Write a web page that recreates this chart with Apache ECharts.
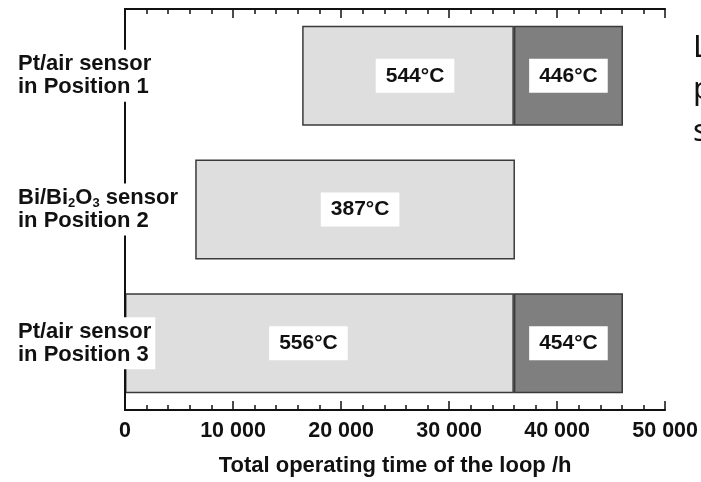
<!DOCTYPE html>
<html>
<head>
<meta charset="utf-8">
<script src="https://cdn.jsdelivr.net/npm/echarts@6/dist/echarts.min.js"></script>
<style>
  html, body { margin: 0; padding: 0; background: #ffffff; }
  #chart { width: 701px; height: 482px; }
</style>
</head>
<body>
<div id="chart"></div>
<script>
// Sensor positions along the loop (top to bottom)
const categories = [
  'Pt/air sensor\nin Position 1',
  'Bi/Bi{sub|2}O{sub|3} sensor\nin Position 2',
  'Pt/air sensor\nin Position 3'
];
// Operating-time boundaries of each sensor (hours of total loop operation)
const startHours = [16400, 6500, 0];
const firstPhaseEnd = [36000, 36100, 36000];
const secondPhaseEnd = [46100, null, 46100];
// Mean temperatures during each phase
const firstPhaseTemps = ['544°C', '387°C', '556°C'];
const secondPhaseTemps = ['446°C', null, '454°C'];
// Horizontal nudges of the first-phase temperature tags
const firstTagShift = [7, 5, -11];
// Axis range
const xMin = 0, xMax = 50000, xStep = 10000;

const FONT = "'Liberation Sans', Arial, Helvetica, sans-serif";
const LIGHT = '#dedede';
const DARK = '#7f7f7f';
const EDGE = '#3a3a3a';

const baseData = startHours;
const firstData = firstPhaseEnd.map((e, i) => ({
  value: e - startHours[i],
  label: { offset: [firstTagShift[i], 0] }
}));
const secondData = secondPhaseEnd.map((e, i) => e == null ? null : e - firstPhaseEnd[i]);

const tagLabel = {
  show: true,
  position: 'inside',
  color: '#111',
  fontFamily: FONT,
  fontWeight: 'bold',
  fontSize: 21,
  backgroundColor: '#ffffff',
  padding: [7, 10, 6, 10]
};

const spaced = v => String(v).replace(/\B(?=(\d{3})+(?!\d))/g, ' ');

const chart = echarts.init(document.getElementById('chart'), null, { renderer: 'canvas' });
chart.setOption({
  animation: false,
  backgroundColor: '#ffffff',
  grid: { left: 125, top: 9, width: 541, height: 405, containLabel: false },
  xAxis: [
    {
      type: 'value', position: 'bottom', min: xMin, max: xMax, interval: xStep,
      name: 'Total operating time of the loop /h',
      nameLocation: 'middle', nameGap: 45,
      nameTextStyle: { fontFamily: FONT, fontWeight: 'bold', fontSize: 22, color: '#111' },
      axisLine: { show: true, lineStyle: { color: '#111', width: 2 } },
      axisTick: { show: true, inside: true, length: 9, lineStyle: { color: '#111', width: 1.5 } },
      minorTick: { show: true, splitNumber: 5, length: 5, lineStyle: { color: '#111', width: 1.5 } },
      axisLabel: { margin: 10, fontFamily: FONT, fontWeight: 'bold', fontSize: 21.5, color: '#111', formatter: spaced },
      splitLine: { show: false }
    },
    {
      type: 'value', position: 'top', min: xMin, max: xMax, interval: xStep,
      axisLine: { show: true, lineStyle: { color: '#111', width: 2 } },
      axisTick: { show: true, inside: true, length: 9, lineStyle: { color: '#111', width: 1.5 } },
      minorTick: { show: true, splitNumber: 5, length: 5, lineStyle: { color: '#111', width: 1.5 } },
      axisLabel: { show: false },
      splitLine: { show: false }
    }
  ],
  yAxis: [
    {
      type: 'category', data: categories, inverse: true, position: 'left', z: 5,
      axisLine: { show: true, lineStyle: { color: '#111', width: 2 } },
      axisTick: { show: false },
      axisLabel: {
        align: 'left', margin: 111, color: '#111',
        fontFamily: FONT, fontWeight: 'bold', fontSize: 22, lineHeight: 23,
        backgroundColor: '#ffffff', padding: [3, 4, 3, 4],
        rich: {
          sub: { fontFamily: FONT, fontWeight: 'bold', fontSize: 13, color: '#111', padding: [10, 0, 0, 0], lineHeight: 23 }
        }
      }
    },
    {
      type: 'category', data: categories, inverse: true, position: 'right',
      axisLine: { show: true, lineStyle: { color: '#4a4a4a', width: 2 } },
      axisTick: { show: false }, axisLabel: { show: false }
    }
  ],
  series: [
    {
      type: 'bar', stack: 'run', barWidth: 100, data: baseData,
      itemStyle: { color: 'transparent' }, silent: true
    },
    {
      type: 'bar', stack: 'run', barWidth: 100, data: firstData,
      itemStyle: { color: LIGHT, borderColor: EDGE, borderWidth: 1.5 },
      label: Object.assign({}, tagLabel, { formatter: p => firstPhaseTemps[p.dataIndex] })
    },
    {
      type: 'bar', stack: 'run', barWidth: 100, data: secondData,
      itemStyle: { color: DARK, borderColor: EDGE, borderWidth: 1.5 },
      label: Object.assign({}, tagLabel, { formatter: p => secondPhaseTemps[p.dataIndex] || '' })
    }
  ],
  graphic: [
    {
      type: 'text', left: 693, top: 27, silent: true,
      style: { text: 'L\np\ns', fontFamily: "'Noto Sans', 'DejaVu Sans', sans-serif", fontSize: 31, lineHeight: 42, fill: '#111' }
    }
  ]
});
</script>
</body>
</html>
